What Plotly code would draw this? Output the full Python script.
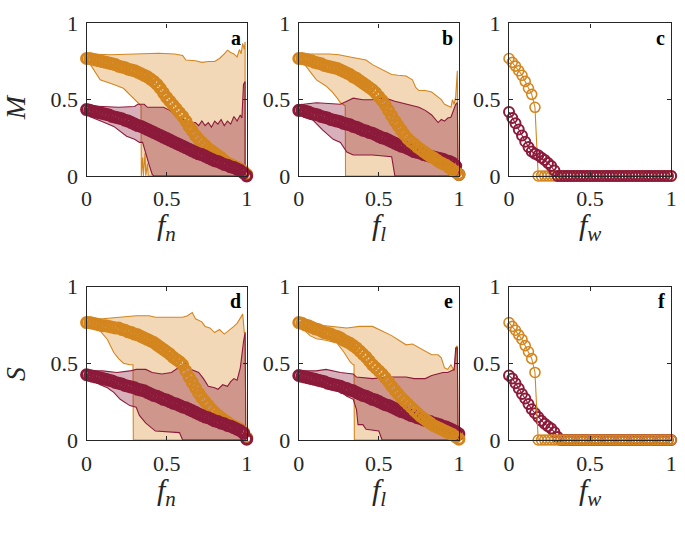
import plotly.graph_objects as go

# ---------------- data ----------------
fx = [round(0.02 * i, 2) for i in range(51)]

a_orange = [.77, .77, .765, .76, .755, .75, .745, .74, .735, .73,
            .72, .715, .71, .70, .695, .69, .68, .67, .66, .65,
            .635, .62, .60, .575, .545, .515, .49, .465, .44, .415,
            .39, .36, .325, .295, .265, .24, .22, .20, .18, .165,
            .15, .135, .12, .10, .085, .075, .065, .055, .045, .03,
            .01]
a_crimson = [.435, .43, .425, .42, .415, .41, .405, .40, .39, .385,
             .38, .375, .365, .36, .35, .34, .33, .325, .315, .305,
             .295, .285, .275, .265, .255, .245, .235, .225, .215, .205,
             .195, .185, .175, .165, .155, .145, .14, .13, .12, .11,
             .10, .095, .085, .075, .07, .06, .055, .045, .035, .02,
             0]
b_orange = [.77, .77, .765, .76, .755, .745, .74, .735, .725, .72,
            .715, .71, .705, .695, .685, .675, .665, .65, .64, .625,
            .61, .595, .58, .565, .545, .52, .495, .465, .43, .395,
            .36, .33, .30, .27, .245, .225, .21, .19, .175, .16,
            .145, .13, .12, .105, .09, .08, .07, .055, .04, .025,
            .01]
b_crimson = [.43, .43, .425, .42, .41, .405, .40, .39, .385, .38,
             .37, .365, .36, .355, .345, .34, .335, .325, .32, .31,
             .30, .295, .285, .28, .27, .26, .25, .245, .235, .225,
             .215, .205, .195, .19, .18, .17, .16, .155, .15, .14,
             .135, .13, .125, .12, .115, .11, .10, .095, .085, .065,
             .01]
c_orange = [.77, .745, .72, .69, .66, .62, .575, .535, .45, 0,
            0, 0, 0, 0, 0, 0, 0, 0, 0, 0,
            0, 0, 0, 0, 0, 0, 0, 0, 0, 0,
            0, 0, 0, 0, 0, 0, 0, 0, 0, 0,
            0, 0, 0, 0, 0, 0, 0, 0, 0, 0,
            0]
c_crimson = [.42, .38, .345, .305, .265, .225, .19, .16, .145, .135,
             .12, .105, .085, .065, .035, 0, 0, 0, 0, 0,
             0, 0, 0, 0, 0, 0, 0, 0, 0, 0,
             0, 0, 0, 0, 0, 0, 0, 0, 0, 0,
             0, 0, 0, 0, 0, 0, 0, 0, 0, 0,
             0]
d_orange = [.765, .765, .76, .755, .75, .745, .745, .74, .735, .73,
            .73, .72, .715, .705, .70, .69, .685, .675, .665, .655,
            .645, .635, .62, .605, .59, .575, .56, .54, .525, .51,
            .49, .45, .41, .375, .34, .305, .275, .25, .225, .20,
            .18, .16, .145, .13, .115, .10, .09, .08, .07, .05,
            .015]
d_crimson = [.425, .42, .415, .41, .405, .40, .395, .39, .385, .375,
             .37, .365, .355, .35, .345, .34, .33, .325, .32, .31,
             .30, .29, .285, .275, .265, .26, .25, .24, .235, .225,
             .215, .21, .20, .19, .18, .17, .16, .15, .145, .135,
             .125, .12, .11, .105, .095, .09, .08, .07, .06, .045,
             .005]
e_orange = [.765, .76, .75, .745, .735, .725, .72, .71, .70, .695,
            .69, .68, .675, .665, .65, .64, .63, .615, .60, .58,
            .56, .54, .515, .49, .47, .45, .43, .405, .38, .35,
            .325, .30, .275, .255, .235, .215, .195, .175, .155, .14,
            .125, .11, .095, .085, .075, .065, .055, .045, .035, .02,
            .005]
e_crimson = [.42, .415, .41, .405, .40, .395, .39, .385, .38, .37,
             .365, .36, .355, .35, .34, .335, .325, .32, .31, .30,
             .29, .285, .275, .265, .26, .25, .24, .23, .225, .215,
             .205, .195, .185, .18, .17, .16, .155, .145, .14, .13,
             .125, .12, .11, .105, .10, .09, .085, .075, .065, .055,
             .04]
f_orange = [.765, .74, .715, .685, .655, .615, .575, .53, .44, 0,
            0, 0, 0, 0, 0, 0, 0, 0, 0, 0,
            0, 0, 0, 0, 0, 0, 0, 0, 0, 0,
            0, 0, 0, 0, 0, 0, 0, 0, 0, 0,
            0, 0, 0, 0, 0, 0, 0, 0, 0, 0,
            0]
f_crimson = [.42, .40, .37, .335, .30, .27, .235, .20, .175, .15,
             .125, .105, .09, .075, .05, .02, 0, 0, 0, 0,
             0, 0, 0, 0, 0, 0, 0, 0, 0, 0,
             0, 0, 0, 0, 0, 0, 0, 0, 0, 0,
             0, 0, 0, 0, 0, 0, 0, 0, 0, 0,
             0]

# band edges (upper / lower envelopes)
a_ou_x = [0, .02, .15, .3, .45, .55, .6, .62, .68, .72, .76, .8, .83, .86, .88, .9, .92, .94, .955, .965, .975, .985, .99, .99]
a_ou_y = [.77, .80, .795, .80, .805, .80, .79, .76, .755, .745, .75, .75, .77, .80, .825, .81, .80, .78, .83, .80, .87, .83, .88, 0]
a_ol_x = [0, .03, .085, .17, .23, .27, .3, .33, .34, .342, .35, .355, .365, .37, .38, .385, .99]
a_ol_y = [.77, .72, .63, .60, .575, .53, .50, .47, .46, 0, .12, 0, .15, 0, .08, 0, 0]
a_cu_x = [0, .02, .1, .2, .3, .32, .36, .38, .48, .52, .56, .6, .64, .68, .7, .72, .74, .76, .78, .8, .82, .84, .86, .88, .9, .92, .94, .96, .97, .98, .99, .99]
a_cu_y = [.435, .46, .455, .45, .455, .47, .47, .45, .45, .43, .39, .375, .35, .35, .33, .36, .33, .35, .32, .36, .34, .37, .33, .36, .34, .39, .36, .40, .38, .60, .62, 0]
a_cl_x = [0, .02, .1, .17, .21, .25, .3, .33, .35, .37, .39, .41, .42, .99]
a_cl_y = [.435, .39, .355, .325, .29, .26, .24, .22, .22, .14, .075, .01, 0, 0]

b_ou_x = [0, .03, .19, .25, .32, .42, .46, .5, .54, .58, .62, .67, .71, .73, .75, .79, .83, .87, .89, .91, .93, .95, .96, .97, .98, .99, .995]
b_ou_y = [.78, .80, .80, .795, .78, .76, .73, .71, .69, .665, .66, .655, .63, .58, .56, .56, .55, .52, .50, .47, .46, .45, .50, .47, .52, .69, 0]
b_ol_x = [0, .03, .11, .17, .21, .24, .26, .29, .292, .995]
b_ol_y = [.77, .74, .63, .59, .55, .51, .48, .46, 0, 0]
b_cu_x = [0, .03, .11, .26, .3, .34, .4, .46, .5, .54, .6, .67, .72, .75, .79, .83, .87, .89, .91, .93, .95, .97, .98, .99, .995]
b_cu_y = [.43, .47, .48, .47, .49, .51, .50, .50, .51, .51, .49, .47, .46, .45, .43, .40, .35, .37, .36, .38, .385, .44, .47, .48, 0]
b_cl_x = [0, .03, .09, .15, .215, .26, .3, .34, .46, .58, .6, .995]
b_cl_y = [.43, .385, .365, .30, .24, .22, .157, .137, .137, .126, 0, 0]

d_ou_x = [0, .035, .1, .21, .31, .39, .43, .51, .6, .63, .66, .68, .72, .74, .77, .8, .83, .86, .9, .92, .94, .96, .975, .985, .99, .995]
d_ou_y = [.77, .79, .79, .80, .81, .81, .80, .80, .80, .81, .83, .79, .77, .74, .73, .70, .72, .69, .72, .74, .76, .80, .82, .70, .70, 0]
d_ol_x = [0, .035, .085, .13, .17, .2, .23, .27, .29, .292, .995]
d_ol_y = [.765, .73, .71, .655, .57, .53, .50, .49, .49, 0, 0]
d_cu_x = [0, .035, .1, .19, .27, .31, .37, .41, .47, .53, .6, .62, .65, .7, .73, .76, .8, .82, .85, .88, .9, .92, .94, .96, .98, .99, .995]
d_cu_y = [.42, .45, .45, .44, .45, .46, .46, .44, .43, .44, .49, .50, .46, .44, .40, .35, .34, .33, .36, .35, .38, .40, .39, .47, .64, .70, 0]
d_cl_x = [0, .035, .085, .13, .17, .21, .27, .31, .33, .37, .43, .58, .6, .995]
d_cl_y = [.42, .39, .36, .34, .31, .265, .224, .213, .16, .11, .058, .048, 0, 0]

e_ou_x = [0, .03, .11, .215, .3, .38, .46, .52, .58, .625, .67, .71, .75, .79, .83, .87, .89, .91, .93, .95, .97, .985, .99, .995]
e_ou_y = [.77, .77, .75, .74, .73, .74, .74, .71, .68, .65, .62, .625, .60, .575, .555, .555, .535, .47, .46, .49, .45, .61, .61, 0]
e_ol_x = [0, .03, .07, .11, .17, .24, .28, .3, .32, .34, .345, .347, .995]
e_ol_y = [.76, .72, .68, .66, .65, .63, .575, .545, .51, .49, .49, 0, 0]
e_cu_x = [0, .03, .11, .17, .26, .34, .36, .46, .56, .67, .72, .79, .83, .87, .9, .93, .97, .98, .99, .995]
e_cu_y = [.42, .45, .45, .46, .44, .43, .41, .40, .41, .41, .40, .40, .42, .43, .44, .44, .46, .60, .60, 0]
e_cl_x = [0, .03, .11, .17, .24, .3, .34, .36, .37, .4, .42, .5, .52, .995]
e_cl_y = [.42, .39, .37, .35, .33, .285, .265, .20, .10, .10, .07, .058, 0, 0]

tick_vals = [0, 0.5, 1]
tick_text = ["0", "0.5", "1"]
panel_letters = ["a", "b", "c", "d", "e", "f"]
x_subs = ["n", "l", "w"]
y_titles = ["M", "S"]

# ---------------- style ----------------
ORANGE = "#D4861E"
CRIMSON = "#8C1A3A"
ORANGE_FILL = "rgba(217,140,40,0.34)"
CRIMSON_FILL = "rgba(142,24,56,0.34)"
AX = "#262626"
FONT = "Liberation Serif, Times New Roman, serif"

W, H = 685, 534
col_px = [(82, 245), (298, 461), (512, 677)]
row_px = [(12, 172), (288, 449)]

fig = go.Figure()


def band(ux, uy, lx, ly, fill, line, xa, ya):
    xs = list(ux) + list(lx)[::-1]
    ys = list(uy) + list(ly)[::-1]
    fig.add_trace(go.Scatter(x=xs, y=ys, mode="lines", fill="toself",
                             fillcolor=fill, line=dict(color=line, width=1.1),
                             xaxis=xa, yaxis=ya, hoverinfo="skip",
                             showlegend=False))


def circles(y, color, xa, ya, size=10, lw=3.0):
    fig.add_trace(go.Scatter(x=fx, y=y, mode="lines+markers",
                             line=dict(color=color, width=1.1),
                             marker=dict(symbol="circle-open", size=size,
                                         color=color,
                                         line=dict(color=color, width=lw)),
                             xaxis=xa, yaxis=ya, cliponaxis=False,
                             hoverinfo="skip", showlegend=False))


# panel a
band(a_ou_x, a_ou_y, a_ol_x, a_ol_y, ORANGE_FILL, ORANGE, "x", "y")
band(a_cu_x, a_cu_y, a_cl_x, a_cl_y, CRIMSON_FILL, CRIMSON, "x", "y")
circles(a_orange, ORANGE, "x", "y")
circles(a_crimson, CRIMSON, "x", "y")
# panel b
band(b_ou_x, b_ou_y, b_ol_x, b_ol_y, ORANGE_FILL, ORANGE, "x2", "y2")
band(b_cu_x, b_cu_y, b_cl_x, b_cl_y, CRIMSON_FILL, CRIMSON, "x2", "y2")
circles(b_crimson, CRIMSON, "x2", "y2")
circles(b_orange, ORANGE, "x2", "y2")
# panel c
circles(c_orange, ORANGE, "x3", "y3", size=10, lw=1.6)
circles(c_crimson, CRIMSON, "x3", "y3", size=10, lw=2.0)
# panel d
band(d_ou_x, d_ou_y, d_ol_x, d_ol_y, ORANGE_FILL, ORANGE, "x4", "y4")
band(d_cu_x, d_cu_y, d_cl_x, d_cl_y, CRIMSON_FILL, CRIMSON, "x4", "y4")
circles(d_orange, ORANGE, "x4", "y4")
circles(d_crimson, CRIMSON, "x4", "y4")
# panel e
band(e_ou_x, e_ou_y, e_ol_x, e_ol_y, ORANGE_FILL, ORANGE, "x5", "y5")
band(e_cu_x, e_cu_y, e_cl_x, e_cl_y, CRIMSON_FILL, CRIMSON, "x5", "y5")
circles(e_crimson, CRIMSON, "x5", "y5")
circles(e_orange, ORANGE, "x5", "y5")
# panel f
circles(f_crimson, CRIMSON, "x6", "y6", size=10, lw=2.0)
circles(f_orange, ORANGE, "x6", "y6", size=10, lw=1.6)

layout = dict(width=W, height=H, margin=dict(l=0, r=0, t=0, b=0),
              paper_bgcolor="white", plot_bgcolor="white", showlegend=False)

annotations = []
for r in range(2):
    for c in range(3):
        k = r * 3 + c + 1
        sfx = "" if k == 1 else str(k)
        x0, x1 = col_px[c]
        y0, y1 = row_px[r]
        common = dict(range=[0, 1], tickvals=tick_vals, ticktext=tick_text,
                      ticks="inside", ticklen=4, tickwidth=1, tickcolor=AX,
                      showline=True, linecolor=AX, linewidth=1.3, mirror="ticks",
                      showgrid=False, zeroline=False, fixedrange=True,
                      ticklabeloverflow="allow",
                      tickfont=dict(family=FONT, size=22, color=AX))
        layout["xaxis" + sfx] = dict(common, domain=[x0 / W, x1 / W],
                                     anchor="y" + sfx, ticklabelstandoff=3)
        layout["yaxis" + sfx] = dict(common, domain=[1 - y1 / H, 1 - y0 / H],
                                     anchor="x" + sfx, ticklabelstandoff=3)
        annotations.append(dict(text="<b>" + panel_letters[k - 1] + "</b>",
                                xref="x" + sfx + " domain", yref="y" + sfx + " domain",
                                x=0.975, y=0.99, xanchor="right", yanchor="top",
                                showarrow=False,
                                font=dict(family=FONT, size=20, color="black")))
        ty = 226 if r == 0 else 504
        annotations.append(dict(text="<i>f</i><sub><i>" + x_subs[c] + "</i></sub>",
                                xref="paper", yref="paper",
                                x=(x0 + x1) / 2 / W, y=1 - ty / H,
                                xanchor="center", yanchor="middle", showarrow=False,
                                font=dict(family=FONT, size=30, color=AX)))
    yc = 100 if r == 0 else 380
    annotations.append(dict(text="<i>" + y_titles[r] + "</i>", xref="paper", yref="paper",
                            x=9 / W, y=1 - yc / H, xanchor="center", yanchor="middle",
                            textangle=-90, showarrow=False,
                            font=dict(family=FONT, size=28, color=AX)))

layout["annotations"] = annotations
fig.update_layout(**layout)
fig.write_html("out.html", config={"displayModeBar": False},
               post_script="document.body.style.margin='0';document.body.style.overflow='hidden';")
